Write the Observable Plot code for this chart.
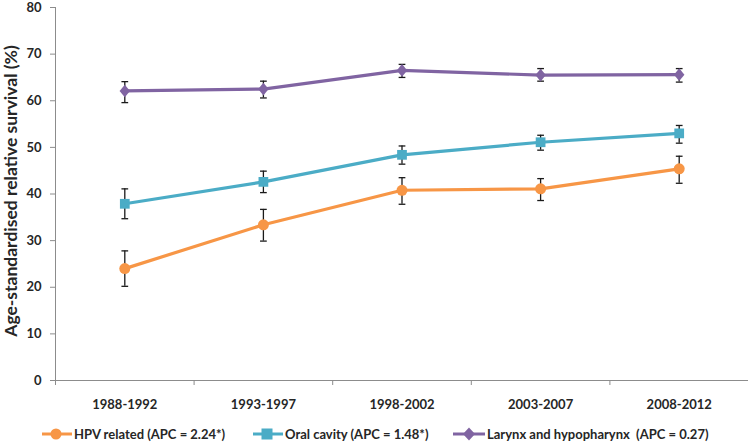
<!DOCTYPE html>
<html><head><meta charset="utf-8">
<script src="https://cdn.jsdelivr.net/npm/d3@7"></script>
<script src="https://cdn.jsdelivr.net/npm/@observablehq/plot@0.6"></script>
<style>
body{margin:0;background:#fff;font-family:Lato,"Open Sans",sans-serif;}
#legend{position:relative;height:27px;font:bold 13px Lato,sans-serif;color:#262626;}
#legend .item{position:absolute;top:6px;display:flex;align-items:center;white-space:pre;}
#legend svg{margin-right:2px;}
</style></head><body>
<div id="chart"></div>
<div id="legend"></div>
<script>
const periods = ["1988-1992","1993-1997","1998-2002","2003-2007","2008-2012"];
const seriesNames = ["HPV related (APC = 2.24*)","Oral cavity (APC = 1.48*)","Larynx and hypopharynx  (APC = 0.27)"];
const hpvValues = [24.0, 33.4, 40.8, 41.1, 45.4];
const hpvLower  = [20.2, 29.9, 37.8, 38.6, 42.3];
const hpvUpper  = [27.8, 36.7, 43.5, 43.3, 48.1];
const oralValues = [37.9, 42.6, 48.4, 51.1, 53.0];
const oralLower  = [34.7, 40.3, 46.4, 49.4, 50.9];
const oralUpper  = [41.1, 44.9, 50.3, 52.6, 54.7];
const larynxValues = [62.1, 62.5, 66.5, 65.5, 65.6];
const larynxLower  = [59.6, 60.6, 65.0, 64.2, 64.0];
const larynxUpper  = [64.1, 64.2, 67.8, 66.9, 66.9];
const yTicks = [0,10,20,30,40,50,60,70,80];
const yLabel = "Age-standardised relative survival (%)";

const colors = ["#F79646","#4BACC6","#8064A2"];
const legendLeft = [42, 253, 453];

const all = [[hpvValues,hpvLower,hpvUpper],[oralValues,oralLower,oralUpper],[larynxValues,larynxLower,larynxUpper]];
const data = [];
all.forEach(([v,lo,hi],s)=>periods.forEach((p,i)=>data.push({series:seriesNames[s], s, i, period:p, v:v[i], lo:lo[i], hi:hi[i]})));

const capSymbol = {draw(ctx,size){const r=Math.sqrt(size)/2; ctx.moveTo(-r,0); ctx.lineTo(r,0);}};
const diamondSymbol = {draw(ctx,size){const r=Math.sqrt(size)/2; ctx.moveTo(0,-r*1.15); ctx.lineTo(r*0.95,0); ctx.lineTo(0,r*1.15); ctx.lineTo(-r*0.95,0); ctx.closePath();}};
const symbols = ["circle","square",diamondSymbol];
const sizes = [5.5,5.5,6.2];
const idx = periods.map((_,i)=>i);
const bounds = [-0.5, ...idx.map(i=>i+0.5)];

const marks = [
  Plot.ruleX([-0.5],{y1:0,y2:80,stroke:"#8c8c8c",strokeWidth:1}),
  Plot.ruleY([0],{stroke:"#8c8c8c",strokeWidth:1}),
  Plot.axisY({ticks:yTicks,tickSize:5,tickPadding:9,stroke:"#8c8c8c",label:null,
    fontWeight:"bold",fontSize:13,fill:"#262626"}),
  Plot.axisX({ticks:bounds,tickSize:5,tickFormat:()=>"",stroke:"#8c8c8c",label:null}),
  Plot.axisX({ticks:idx,tickSize:0,tickPadding:19,tickFormat:i=>periods[i],fontWeight:"bold",fontSize:13,fill:"#262626",label:null}),
  Plot.text([yLabel],{frameAnchor:"left",dx:-44,dy:-3,rotate:-90,textAnchor:"middle",fontWeight:"bold",fontSize:17.5,fill:"#262626",text:d=>d}),
];
seriesNames.forEach((name,s)=>{
  const d = data.filter(r=>r.s===s);
  marks.push(Plot.line(d,{x:"i",y:"v",stroke:colors[s],strokeWidth:3.2}));
});
marks.push(Plot.ruleX(data,{x:"i",y1:"lo",y2:"hi",stroke:"#1a1a1a",strokeWidth:1.3}));
marks.push(Plot.dot(data,{x:"i",y:"lo",symbol:capSymbol,r:3.8,stroke:"#1a1a1a",strokeWidth:1.3,fill:"none"}));
marks.push(Plot.dot(data,{x:"i",y:"hi",symbol:capSymbol,r:3.8,stroke:"#1a1a1a",strokeWidth:1.3,fill:"none"}));
seriesNames.forEach((name,s)=>{
  const d = data.filter(r=>r.s===s);
  marks.push(Plot.dot(d,{x:"i",y:"v",symbol:symbols[s],r:sizes[s],fill:colors[s],stroke:null}));
});

const chart = Plot.plot({
  width:748,height:420,
  marginLeft:55,marginRight:0,marginTop:7,marginBottom:40,
  style:{fontFamily:"Lato, sans-serif",background:"#fff",overflow:"visible"},
  x:{type:"linear",domain:[-0.5,4.5],axis:null},
  y:{domain:[0,80],axis:null},
  marks
});
document.getElementById("chart").appendChild(chart);

const legend = document.getElementById("legend");
const legendSym = [
  '<circle cx="14" cy="7" r="5.5"/>',
  '<rect x="8.5" y="1.5" width="11" height="11"/>',
  '<path d="M16,0.5 L22,7 L16,13.5 L10,7 Z"/>'
];
seriesNames.forEach((name,s)=>{
  const item = document.createElement("div");
  item.className="item";
  item.style.left = legendLeft[s]+"px";
  const w = s===2?32:30;
  item.innerHTML = `<svg width="${w}" height="14"><line x1="0" x2="${w}" y1="7" y2="7" stroke="${colors[s]}" stroke-width="3"/><g fill="${colors[s]}">${legendSym[s]}</g></svg><span>${name}</span>`;
  legend.appendChild(item);
});
</script>
</body></html>
